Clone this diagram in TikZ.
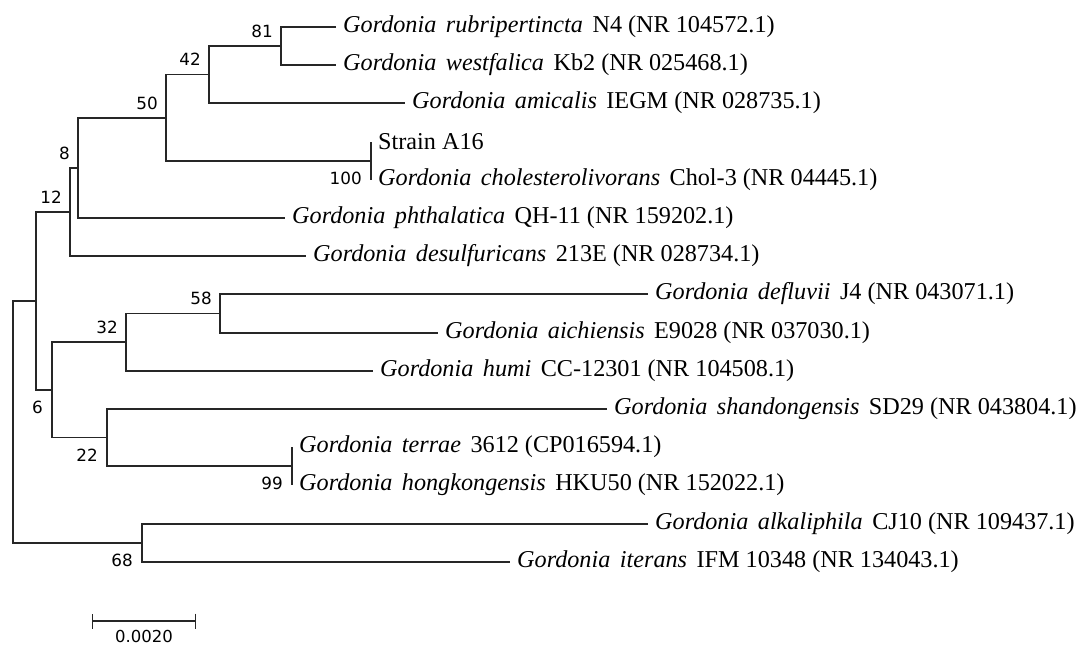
\documentclass[tikz,border=0pt]{standalone}
\usepackage{fontspec}
\setmainfont{Liberation Serif}
\newfontfamily\bsfont{DejaVu Sans}
\usepackage{tikz}
\usepackage{xcolor}
\usetikzlibrary{arrows.meta, positioning}

\newcommand{\gsp}[1]{\textit{Gordonia}\hspace{9.5pt}\textit{#1}\hspace{9.5pt}}

\tikzset{
    leaf/.style = {anchor = west, inner sep = 0pt, inner xsep = 7pt, font = \fontsize{24.2}{28}\selectfont},
    bsup/.style = {anchor = south east, inner sep = 0pt, xshift = -8pt, yshift = 8.5pt, font = \bsfont\fontsize{16.8}{19}\selectfont},
    bsdown/.style = {anchor = north east, inner sep = 0pt, xshift = -9pt, yshift = -11pt, font = \bsfont\fontsize{16.8}{19}\selectfont},
    branch/.style = {draw = black!85, line width = 1.2pt},
}

\begin{document}
\begin{tikzpicture}[x = 1pt, y = -1pt]%{{{
                \useasboundingbox (0, 0) rectangle (1079, 646);

                \node (T1) [leaf] at (336, 27) {\gsp{rubripertincta}N4 (NR 104572.1)};
                \node (T2) [leaf] at (336, 65) {\gsp{westfalica}Kb2 (NR 025468.1)};
                \node (T3) [leaf] at (405, 103) {\gsp{amicalis}IEGM (NR 028735.1)};
                \node (T4) [leaf] at (371, 142) {Strain A16};
                \node (T5) [leaf] at (371, 180) {\gsp{cholesterolivorans}Chol-3 (NR 04445.1)};
                \node (T6) [leaf] at (285, 218) {\gsp{phthalatica}QH-11 (NR 159202.1)};
                \node (T7) [leaf] at (306, 256) {\gsp{desulfuricans}213E (NR 028734.1)};
                \node (T8) [leaf] at (648, 294) {\gsp{defluvii}J4 (NR 043071.1)};
                \node (T9) [leaf] at (438, 333) {\gsp{aichiensis}E9028 (NR 037030.1)};
                \node (T10) [leaf] at (373, 371) {\gsp{humi}CC-12301 (NR 104508.1)};
                \node (T11) [leaf] at (607, 409) {\gsp{shandongensis}SD29 (NR 043804.1)};
                \node (T12) [leaf] at (292, 447) {\gsp{terrae}3612 (CP016594.1)};
                \node (T13) [leaf] at (292, 485) {\gsp{hongkongensis}HKU50 (NR 152022.1)};
                \node (T14) [leaf] at (648, 524) {\gsp{alkaliphila}CJ10 (NR 109437.1)};
                \node (T15) [leaf] at (510, 562) {\gsp{iterans}IFM 10348 (NR 134043.1)};

                \coordinate (I0) at (13, 422);
                \coordinate (IA) at (36, 301);
                \coordinate (I12) at (70, 212);
                \coordinate (I8) at (78, 168);
                \coordinate (I50) at (166, 118);
                \coordinate (I42) at (209, 74.5);
                \coordinate (I81) at (281, 46);
                \coordinate (I100) at (371, 161);
                \coordinate (I6) at (52, 390);
                \coordinate (I32) at (126, 342);
                \coordinate (I58) at (220, 313.5);
                \coordinate (I22) at (107, 437.5);
                \coordinate (I99) at (292, 466);
                \coordinate (I68) at (142, 543);

                \draw [branch] (T1.west) -| (I81) |- (T2.west);
                \draw [branch] (I81) -| (I42) |- (T3.west);
                \draw [branch] (T4.west) -- (T5.west);
                \draw [branch] (I42) -| (I50) |- (I100);
                \draw [branch] (I50) -| (I8) |- (T6.west);
                \draw [branch] (I8) -| (I12) |- (T7.west);
                \draw [branch] (T8.west) -| (I58) |- (T9.west);
                \draw [branch] (I58) -| (I32) |- (T10.west);
                \draw [branch] (T12.west) -- (T13.west);
                \draw [branch] (T11.west) -| (I22) |- (I99);
                \draw [branch] (I32) -| (I6) |- (I22);
                \draw [branch] (I12) -| (IA) |- (I6);
                \draw [branch] (T14.west) -| (I68) |- (T15.west);
                \draw [branch] (IA) -| (I0) |- (I68);

                \node (B81) [bsup] at (I81) {81};
                \node (B42) [bsup] at (I42) {42};
                \node (B50) [bsup] at (I50) {50};
                \node (B8) [bsup] at (I8) {8};
                \node (B12) [bsup] at (I12) {12};
                \node (B58) [bsup] at (I58) {58};
                \node (B32) [bsup] at (I32) {32};
                \node (B100) [bsdown] at (I100) {100};
                \node (B6) [bsdown] at (I6) {6};
                \node (B22) [bsdown] at (I22) {22};
                \node (B99) [bsdown] at (I99) {99};
                \node (B68) [bsdown] at (I68) {68};

                \coordinate (S1) at (92, 621);
                \coordinate (S2) at (196, 621);
                \draw [branch, {Bar[width = 15pt]}-{Bar[width = 15pt]}] (S1) -- (S2);
                \node (S) [anchor = north, inner sep = 0pt, font = \bsfont\fontsize{16.5}{19}\selectfont] at (144, 630) {0.0020};
            \end{tikzpicture}
\end{document}
